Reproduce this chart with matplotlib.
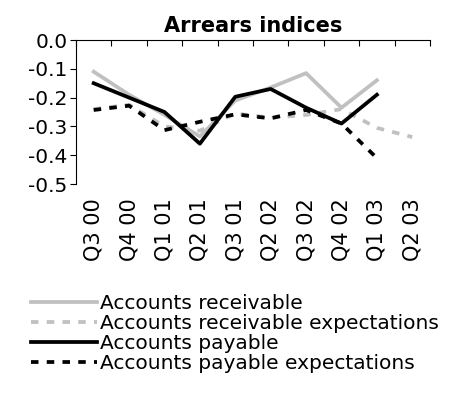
import matplotlib.pyplot as plt
import numpy as np

quarters = ["Q3 00", "Q4 00", "Q1 01", "Q2 01", "Q3 01",
            "Q2 02", "Q3 02", "Q4 02", "Q1 03", "Q2 03"]

receivable = [-0.11, -0.19, -0.26, -0.335, -0.21, -0.165, -0.115, -0.235, -0.14, np.nan]
receivable_exp = [-0.24, -0.225, -0.30, -0.315, -0.255, -0.27, -0.26, -0.24, -0.305, -0.337]
payable = [-0.15, -0.20, -0.25, -0.36, -0.197, -0.17, -0.235, -0.29, -0.19, np.nan]
payable_exp = [-0.243, -0.228, -0.313, -0.284, -0.258, -0.272, -0.243, -0.29, -0.41, np.nan]

y_ticks = [-0.5, -0.4, -0.3, -0.2, -0.1, 0.0]

plt.rcParams["font.family"] = "DejaVu Sans"

fig = plt.figure(figsize=(4.55, 4.03), dpi=100)
ax = fig.add_axes([0.167, 0.5434, 0.778, 0.3573])

x = np.arange(len(quarters)) + 0.5
dash = (2.0, 2.2)
lw = 2.7

ax.plot(x, receivable_exp, color="#c0c0c0", lw=lw, linestyle=(0, dash),
        label="Accounts receivable expectations")
ax.plot(x, receivable, color="#c0c0c0", lw=lw, label="Accounts receivable")
ax.plot(x, payable_exp, color="black", lw=lw, linestyle=(0, dash),
        label="Accounts payable expectations")
ax.plot(x, payable, color="black", lw=lw, label="Accounts payable")

ax.set_xlim(0, len(quarters))
ax.set_ylim(-0.5, 0.0)
ax.set_yticks(y_ticks)
ax.set_yticklabels([f"{abs(v):.1f}" if v == 0 else f"{v:.1f}" for v in y_ticks],
                   fontsize=14.5)

# category labels at the bottom, boundary ticks along the zero line on top
ax.set_xticks(x)
ax.set_xticklabels(quarters, rotation=90, fontsize=15)
ax.tick_params(axis="x", which="major", length=0, pad=10)
ax.set_xticks(np.arange(len(quarters) + 1), minor=True)
ax.tick_params(axis="x", which="minor", top=True, bottom=False,
               direction="in", length=4, width=0.8)
ax.tick_params(axis="y", direction="out", length=4, width=0.8, pad=2)

ax.spines["right"].set_visible(False)
ax.spines["bottom"].set_visible(False)

ax.set_title("Arrears indices", fontsize=15, fontweight="bold", pad=6)

handles, labels = ax.get_legend_handles_labels()
order = [1, 0, 3, 2]
fig.legend([handles[i] for i in order], [labels[i] for i in order],
           loc="upper left", bbox_to_anchor=(0.05, 0.29), frameon=False,
           fontsize=14.5, handlelength=3.3, handletextpad=0.15, labelspacing=0.05,
           borderaxespad=0)

fig.savefig("out.png", dpi=100)
plt.close(fig)
